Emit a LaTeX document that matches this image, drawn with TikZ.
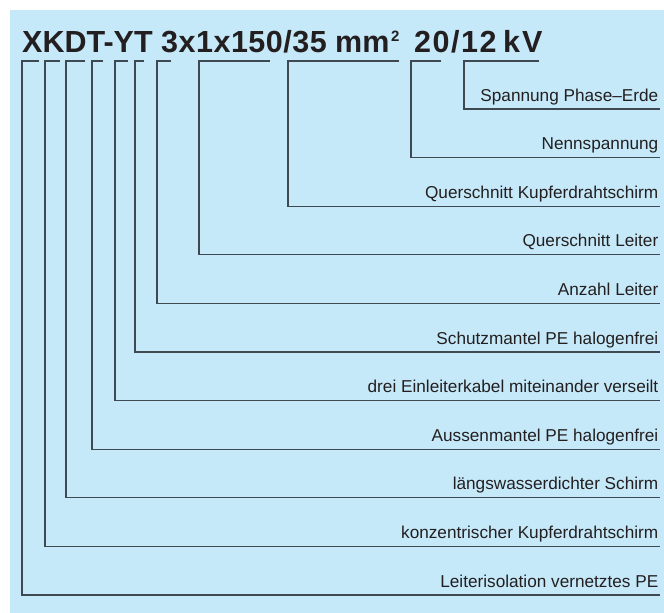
\documentclass[tikz,border=0pt]{standalone}
\usepackage{fontspec}
\setmainfont{Liberation Sans}
\definecolor{bgblue}{HTML}{C6E9F9}
\definecolor{txt}{HTML}{231F20}
\definecolor{ln}{HTML}{3E4952}
\begin{document}
\begin{tikzpicture}[x=1pt,y=-1pt,
  titletxt/.style={anchor=base west,inner sep=0pt,text=txt,font=\fontsize{30.5}{32}\selectfont\bfseries},
  lbl/.style={anchor=base east,inner sep=0pt,text=txt,font=\fontsize{17.2}{19}\selectfont},
  lead/.style={draw=ln,line width=1.1pt}]
\useasboundingbox (0,0) rectangle (664,613);
\fill[bgblue] (10,10) rectangle (664,613);
% title
\node[titletxt] (t1) at (22,52.5) {XKDT-YT};
\node[titletxt] (t2) at (161,52.5) {3\kern.5pt x\kern.5pt 1\kern.5pt x\kern.5pt 1\kern.5pt 5\kern.5pt 0\kern.5pt /\kern.5pt 3\kern.5pt 5};
\node[titletxt] (t3) at (335,52.5) {mm};
\node[anchor=base west,inner sep=0pt,text=txt,font=\fontsize{15}{16}\selectfont\bfseries] (t4) at (391,41) {2};
\node[titletxt] (t5) at (414,52.5) {2\kern1.5pt 0\kern1.5pt /\kern1.5pt 1\kern1.5pt 2};
\node[titletxt] (t6) at (503,52.5) {k\kern2pt V};
% leaders: {vertical x / top end x / row index / label}
\foreach \vx/\ex/\i/\name/\txt in {
  464/539/0/a/{Spannung Phase–Erde},
  411/441/1/b/{Nennspannung},
  288/399/2/c/{Querschnitt Kupferdrahtschirm},
  199/270/3/d/{Querschnitt Leiter},
  157/171/4/e/{Anzahl Leiter},
  135/144/5/f/{Schutzmantel PE halogenfrei},
  115/128/6/g/{drei Einleiterkabel miteinander verseilt},
  92/103/7/h/{Aussenmantel PE halogenfrei},
  66/85/8/i/{längswasserdichter Schirm},
  45/60/9/j/{konzentrischer Kupferdrahtschirm},
  22/39/10/k/{Leiterisolation vernetztes PE}}{
  \pgfmathsetmacro{\ry}{109+48.6*\i}
  \coordinate (top\name) at (\ex,61);
  \coordinate (corner\name) at (\vx,61);
  \coordinate (bot\name) at (\vx,\ry);
  \coordinate (end\name) at (660,\ry);
  \node[lbl] (lab\name) at (658.5,\ry-8) {\txt};
  \draw[lead] (top\name) -- (corner\name) -- (bot\name) -- (end\name);
}
\end{tikzpicture}
\end{document}
